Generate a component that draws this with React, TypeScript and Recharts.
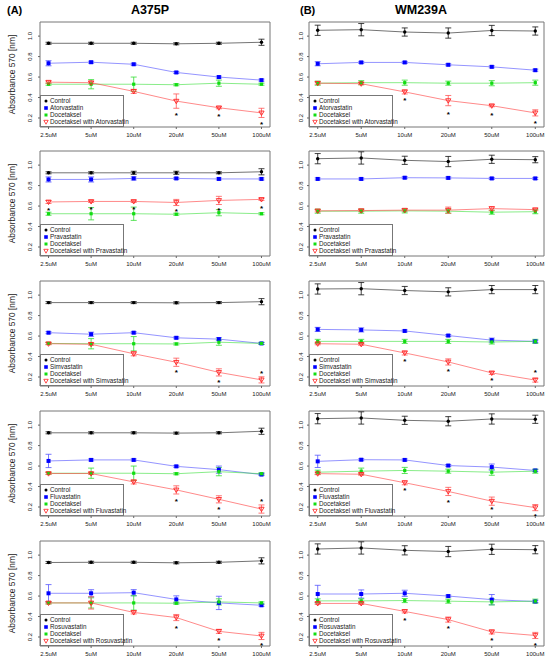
import React from 'react';
import { ComposedChart, Line, XAxis, YAxis, ErrorBar, ReferenceArea } from 'recharts';

const doses = ['2.5uM', '5uM', '10uM', '20uM', '50uM', '100uM'];
const statins = ['Atorvastatin', 'Pravastatin', 'Simvastatin', 'Fluvastatin', 'Rosuvastatin'];
const yTicks = [0.2, 0.4, 0.6, 0.8, 1.0];

// A375P, one row per statin (Ator, Prava, Simva, Fluva, Rosuva)
const a375pControl = [
  [0.93, 0.93, 0.93, 0.925, 0.93, 0.94],
  [0.925, 0.925, 0.925, 0.925, 0.925, 0.935],
  [0.927, 0.927, 0.927, 0.925, 0.927, 0.936],
  [0.925, 0.925, 0.925, 0.922, 0.925, 0.94],
  [0.928, 0.93, 0.93, 0.925, 0.93, 0.944],
];
const a375pControlErr = [
  [0.01, 0.01, 0.01, 0.01, 0.01, 0.03],
  [0.01, 0.01, 0.015, 0.015, 0.01, 0.03],
  [0.01, 0.01, 0.01, 0.01, 0.01, 0.03],
  [0.01, 0.01, 0.01, 0.01, 0.01, 0.03],
  [0.01, 0.01, 0.01, 0.01, 0.01, 0.03],
];
const a375pStatin = [
  [0.735, 0.745, 0.725, 0.645, 0.6, 0.57],
  [0.86, 0.86, 0.87, 0.87, 0.865, 0.865],
  [0.633, 0.618, 0.633, 0.583, 0.57, 0.528],
  [0.65, 0.66, 0.66, 0.597, 0.565, 0.517],
  [0.627, 0.627, 0.633, 0.567, 0.533, 0.51],
];
const a375pStatinErr = [
  [0.025, 0.01, 0.01, 0.01, 0.01, 0.01],
  [0.025, 0.025, 0.015, 0.01, 0.01, 0.01],
  [0.01, 0.02, 0.01, 0.01, 0.015, 0.01],
  [0.065, 0.01, 0.01, 0.01, 0.035, 0.01],
  [0.085, 0.035, 0.03, 0.035, 0.065, 0.01],
];
const a375pDoc = [
  [0.53, 0.53, 0.53, 0.525, 0.54, 0.53],
  [0.525, 0.525, 0.525, 0.52, 0.535, 0.525],
  [0.528, 0.525, 0.525, 0.523, 0.54, 0.528],
  [0.53, 0.53, 0.53, 0.525, 0.545, 0.525],
  [0.533, 0.533, 0.533, 0.53, 0.543, 0.533],
];
const a375pDocErr = [
  [0.01, 0.045, 0.07, 0.01, 0.03, 0.01],
  [0.015, 0.06, 0.065, 0.01, 0.03, 0.01],
  [0.01, 0.05, 0.07, 0.01, 0.03, 0.01],
  [0.01, 0.05, 0.07, 0.01, 0.04, 0.01],
  [0.01, 0.05, 0.07, 0.01, 0.03, 0.01],
];
const a375pCombo = [
  [0.55, 0.545, 0.46, 0.365, 0.3, 0.25],
  [0.64, 0.645, 0.645, 0.635, 0.655, 0.665],
  [0.525, 0.52, 0.427, 0.344, 0.245, 0.172],
  [0.527, 0.527, 0.445, 0.367, 0.275, 0.18],
  [0.533, 0.533, 0.44, 0.39, 0.255, 0.21],
];
const a375pComboErr = [
  [0.01, 0.01, 0.02, 0.07, 0.01, 0.045],
  [0.015, 0.01, 0.01, 0.03, 0.04, 0.01],
  [0.01, 0.01, 0.02, 0.04, 0.035, 0.03],
  [0.01, 0.01, 0.02, 0.04, 0.035, 0.04],
  [0.01, 0.06, 0.015, 0.03, 0.02, 0.035],
];
const a375pStars = [
  [null, null, null, 0.24, 0.23, 0.15],
  [0.57, 0.575, 0.58, 0.56, 0.57, 0.59],
  [null, null, null, 0.25, 0.155, 0.245],
  [null, null, null, 0.265, 0.19, 0.265],
  [null, null, null, 0.29, 0.18, 0.13],
];

// WM239A
const wm239aControl = [
  [1.057, 1.063, 1.04, 1.03, 1.055, 1.05],
  [1.063, 1.07, 1.047, 1.035, 1.057, 1.053],
  [1.06, 1.063, 1.045, 1.032, 1.054, 1.054],
  [1.063, 1.07, 1.047, 1.038, 1.06, 1.057],
  [1.06, 1.07, 1.047, 1.035, 1.057, 1.053],
];
const wm239aControlErr = [
  [0.05, 0.06, 0.04, 0.05, 0.05, 0.04],
  [0.05, 0.06, 0.04, 0.05, 0.04, 0.03],
  [0.05, 0.06, 0.04, 0.04, 0.04, 0.04],
  [0.05, 0.06, 0.04, 0.045, 0.05, 0.04],
  [0.05, 0.06, 0.045, 0.05, 0.05, 0.04],
];
const wm239aStatin = [
  [0.73, 0.743, 0.743, 0.72, 0.7, 0.667],
  [0.865, 0.865, 0.877, 0.875, 0.87, 0.87],
  [0.665, 0.66, 0.65, 0.605, 0.56, 0.548],
  [0.646, 0.662, 0.66, 0.605, 0.59, 0.557],
  [0.62, 0.62, 0.627, 0.6, 0.565, 0.547],
];
const wm239aStatinErr = [
  [0.02, 0.01, 0.01, 0.01, 0.01, 0.01],
  [0.01, 0.01, 0.01, 0.01, 0.01, 0.01],
  [0.02, 0.02, 0.01, 0.01, 0.02, 0.01],
  [0.06, 0.01, 0.01, 0.01, 0.03, 0.01],
  [0.085, 0.04, 0.03, 0.01, 0.05, 0.01],
];
const wm239aDoc = [
  [0.54, 0.545, 0.545, 0.54, 0.54, 0.545],
  [0.55, 0.55, 0.553, 0.55, 0.54, 0.545],
  [0.548, 0.548, 0.548, 0.548, 0.542, 0.548],
  [0.54, 0.55, 0.557, 0.55, 0.54, 0.55],
  [0.553, 0.553, 0.556, 0.55, 0.543, 0.55],
];
const wm239aDocErr = [
  [0.02, 0.02, 0.025, 0.02, 0.025, 0.025],
  [0.02, 0.02, 0.02, 0.02, 0.02, 0.02],
  [0.02, 0.02, 0.02, 0.02, 0.02, 0.02],
  [0.02, 0.03, 0.03, 0.02, 0.03, 0.02],
  [0.02, 0.02, 0.02, 0.02, 0.03, 0.02],
];
const wm239aCombo = [
  [0.54, 0.535, 0.455, 0.37, 0.32, 0.25],
  [0.553, 0.556, 0.56, 0.56, 0.575, 0.565],
  [0.525, 0.52, 0.435, 0.347, 0.24, 0.17],
  [0.526, 0.52, 0.437, 0.352, 0.257, 0.194],
  [0.528, 0.528, 0.45, 0.37, 0.25, 0.215],
];
const wm239aComboErr = [
  [0.01, 0.01, 0.02, 0.05, 0.01, 0.03],
  [0.01, 0.01, 0.01, 0.03, 0.02, 0.01],
  [0.01, 0.01, 0.02, 0.03, 0.015, 0.02],
  [0.01, 0.01, 0.02, 0.04, 0.04, 0.03],
  [0.01, 0.01, 0.015, 0.025, 0.02, 0.03],
];
const wm239aStars = [
  [null, null, 0.38, 0.245, 0.24, 0.16],
  [null, null, null, null, null, null],
  [null, null, 0.36, 0.265, 0.18, 0.25],
  [null, null, 0.368, 0.254, 0.184, 0.115],
  [null, null, 0.368, 0.293, 0.175, 0.13],
];

const Y_DOMAIN: [number, number] = [0.112, 1.138];
const X_DOMAIN: [number, number] = [0.8, 6.2];
const ROW_TOPS = [22, 151, 281, 411, 541];
const BOX_H = 105;

const a375p = {
  control: a375pControl, controlErr: a375pControlErr, statin: a375pStatin, statinErr: a375pStatinErr,
  doc: a375pDoc, docErr: a375pDocErr, combo: a375pCombo, comboErr: a375pComboErr, stars: a375pStars,
};
const wm239a = {
  control: wm239aControl, controlErr: wm239aControlErr, statin: wm239aStatin, statinErr: wm239aStatinErr,
  doc: wm239aDoc, docErr: wm239aDocErr, combo: wm239aCombo, comboErr: wm239aComboErr, stars: wm239aStars,
};

const columns = [
  { tag: '(A)', name: 'A375P', data: a375p, left: 0, axisW: 40, rightM: 5, tickOff: 4, label: true, titleX: 150 },
  { tag: '(B)', name: 'WM239A', data: wm239a, left: 275, axisW: 34, rightM: 6, tickOff: 2, label: false, titleX: 421 },
];

const buildRows = (d: any, row: number) =>
  doses.map((dose, i) => ({
    x: i + 1,
    dose,
    control: d.control[row][i],
    controlErr: d.controlErr[row][i],
    statin: d.statin[row][i],
    statinErr: d.statinErr[row][i],
    doc: d.doc[row][i],
    docErr: d.docErr[row][i],
    combo: d.combo[row][i],
    comboErr: d.comboErr[row][i],
    star: d.stars[row][i],
  }));

const COLORS = { control: '#000000', statin: '#0000ff', doc: '#11dd11', combo: '#ff2020' };

// point shapes, close to R's pch 20 / 15 / 20 / 6
const ControlDot = (p: any) =>
  p.cy == null ? <g key={`c${p.index}`} /> : <circle key={`c${p.index}`} cx={p.cx} cy={p.cy} r={1.7} fill={COLORS.control} />;
const StatinDot = (p: any) =>
  p.cy == null ? <g key={`s${p.index}`} /> : <rect key={`s${p.index}`} x={p.cx - 2} y={p.cy - 2} width={4} height={4} fill={COLORS.statin} />;
const DocDot = (p: any) =>
  p.cy == null ? <g key={`d${p.index}`} /> : <rect key={`d${p.index}`} x={p.cx - 1.6} y={p.cy - 1.6} width={3.2} height={3.2} fill={COLORS.doc} />;
const ComboDot = (p: any) =>
  p.cy == null ? (
    <g key={`m${p.index}`} />
  ) : (
    <path key={`m${p.index}`} d={`M${p.cx - 2.6},${p.cy - 1.8} L${p.cx + 2.6},${p.cy - 1.8} L${p.cx},${p.cy + 2.6} Z`} fill="none" stroke={COLORS.combo} strokeWidth={0.9} />
  );
const StarDot = (p: any) =>
  p.cy == null || p.value == null ? (
    <g key={`t${p.index}`} />
  ) : (
    <text key={`t${p.index}`} x={p.cx} y={p.cy + 3.6} textAnchor="middle" fontSize={8} fontWeight="bold" fill="#000">
      *
    </text>
  );

const XTick = (props: any) => {
  const { x, y, payload } = props;
  return (
    <text x={x} y={y + 6} textAnchor="middle" fontSize={6} fill="#222">
      {doses[payload.value - 1]}
    </text>
  );
};

const makeYTick = (off: number) => (props: any) => {
  const { x, y, payload } = props;
  const bx = x - off;
  return (
    <text x={bx} y={y} transform={`rotate(-90, ${bx}, ${y})`} textAnchor="middle" fontSize={6} fill="#222">
      {Number(payload.value).toFixed(1)}
    </text>
  );
};

const legendMarkers = [
  <circle cx={3} cy={3} r={1.5} fill={COLORS.control} />,
  <rect x={1.2} y={1.2} width={3.6} height={3.6} fill={COLORS.statin} />,
  <rect x={1.5} y={1.5} width={3} height={3} fill={COLORS.doc} />,
  <path d="M0.8,1.3 L5.2,1.3 L3,5.2 Z" fill="none" stroke={COLORS.combo} strokeWidth={0.8} />,
];

const Panel = ({ col, row }: { col: any; row: number }) => {
  const top = ROW_TOPS[row];
  const data = buildRows(col.data, row);
  const statin = statins[row];
  const legendItems = ['Control', statin, 'Docetaksel', `Docetaksel with ${statin}`];
  const YTick = makeYTick(col.tickOff);
  return (
    <div style={{ position: 'absolute', left: col.left, top: top - 4, width: 275, height: 133 }}>
      <ComposedChart
        width={275}
        height={133}
        data={data}
        margin={{ top: 4, right: col.rightM, bottom: 0, left: 0 }}
      >
        <XAxis
          type="number"
          dataKey="x"
          domain={X_DOMAIN}
          ticks={[1, 2, 3, 4, 5, 6]}
          height={24}
          axisLine={false}
          tickSize={2}
          tickLine={{ stroke: '#666' }}
          tick={<XTick />}
          interval={0}
        />
        <YAxis
          type="number"
          domain={Y_DOMAIN}
          ticks={yTicks}
          width={col.axisW}
          axisLine={false}
          tickSize={2}
          tickLine={{ stroke: '#666' }}
          tick={<YTick />}
          interval={0}
          allowDataOverflow
        />
        <ReferenceArea x1={X_DOMAIN[0]} x2={X_DOMAIN[1]} y1={Y_DOMAIN[0]} y2={Y_DOMAIN[1]} fill="none" stroke="#777" strokeWidth={1} />
        <Line type="linear" dataKey="control" stroke="rgba(0,0,0,0.55)" strokeWidth={1} dot={ControlDot} activeDot={false} isAnimationActive={false}>
          <ErrorBar dataKey="controlErr" direction="y" width={3} stroke="#111" strokeWidth={0.8} />
        </Line>
        <Line type="linear" dataKey="statin" stroke="rgba(60,60,255,0.55)" strokeWidth={1} dot={StatinDot} activeDot={false} isAnimationActive={false}>
          <ErrorBar dataKey="statinErr" direction="y" width={3} stroke="#5555ff" strokeWidth={0.8} />
        </Line>
        <Line type="linear" dataKey="doc" stroke="rgba(40,220,40,0.55)" strokeWidth={1} dot={DocDot} activeDot={false} isAnimationActive={false}>
          <ErrorBar dataKey="docErr" direction="y" width={3} stroke="#33dd33" strokeWidth={0.8} />
        </Line>
        <Line type="linear" dataKey="combo" stroke="rgba(255,60,60,0.6)" strokeWidth={1} dot={ComboDot} activeDot={false} isAnimationActive={false}>
          <ErrorBar dataKey="comboErr" direction="y" width={3} stroke="#ff5555" strokeWidth={0.8} />
        </Line>
        <Line type="linear" dataKey="star" stroke="none" dot={StarDot} activeDot={false} isAnimationActive={false} />
      </ComposedChart>
      <div
        style={{
          position: 'absolute',
          left: col.axisW,
          top: 4 + 73,
          width: 84,
          height: BOX_H - 73,
          boxSizing: 'border-box',
          background: '#fff',
          border: '1px solid #777',
        }}
      >
        {legendItems.map((item, i) => (
          <div key={item} style={{ position: 'absolute', left: 2, top: 1.4 + 6.9 * i, height: 7, lineHeight: '7px', whiteSpace: 'nowrap', fontSize: 6.3, color: '#222' }}>
            <svg width={6} height={6} style={{ position: 'absolute', left: 0, top: 0.5 }}>
              {legendMarkers[i]}
            </svg>
            <span style={{ position: 'absolute', left: 7 }}>{item}</span>
          </div>
        ))}
      </div>
      {col.label && (
        <div
          style={{
            position: 'absolute',
            left: 7,
            top: 4 + BOX_H,
            width: BOX_H,
            height: 10,
            lineHeight: '10px',
            fontSize: 8.4,
            textAlign: 'center',
            whiteSpace: 'nowrap',
            color: '#222',
            transform: 'rotate(-90deg)',
            transformOrigin: '0 0',
          }}
        >
          Absorbance 570 [nm]
        </div>
      )}
    </div>
  );
};

export default function App() {
  return (
    <div
      style={{
        position: 'absolute',
        left: 0,
        top: 0,
        width: 550,
        height: 667,
        background: '#fff',
        fontFamily: '"Liberation Sans", Arial, sans-serif',
        overflow: 'hidden',
      }}
    >
      {columns.map((col) => (
        <React.Fragment key={col.name}>
          <div style={{ position: 'absolute', left: col.left + (col.left ? 25 : 7), top: 4, fontSize: 11, fontWeight: 'bold' }}>{col.tag}</div>
          <div style={{ position: 'absolute', left: col.titleX - 50, top: 3, width: 100, textAlign: 'center', fontSize: 12.5, fontWeight: 'bold' }}>
            {col.name}
          </div>
          {statins.map((s, row) => (
            <Panel key={s} col={col} row={row} />
          ))}
        </React.Fragment>
      ))}
    </div>
  );
}
